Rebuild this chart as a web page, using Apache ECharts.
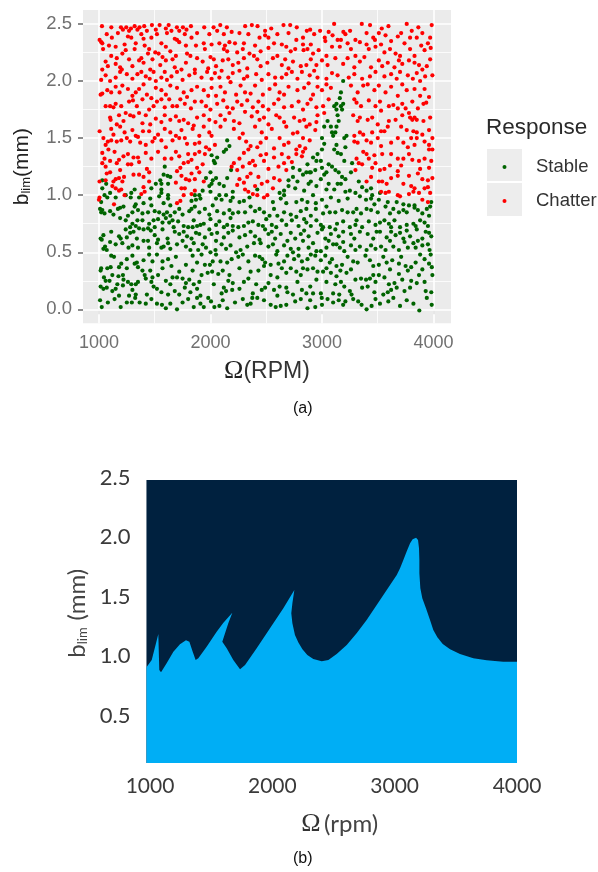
<!DOCTYPE html>
<html><head><meta charset="utf-8">
<style>html,body{margin:0;padding:0;background:#fff}#c{width:598px;height:872px}</style>
<script src="https://cdn.jsdelivr.net/npm/echarts@6/dist/echarts.min.js"></script></head>
<body><div id="c"></div>
<script>
const responseLabels=['Stable','Chatter'];
const scatterXTicks=[1000,2000,3000,4000];
const scatterXMinor=[1500,2500,3500];
const scatterYTicks=[0,0.5,1,1.5,2,2.5];
const scatterYMinor=[0.25,0.75,1.25,1.75,2.25];
const regionXTicks=[1000,2000,3000,4000];
const regionYTicks=[0.5,1,1.5,2,2.5];
const chatter=[
[1027,2.48],[1111,2.47],[1197,2.47],[1215,2.45],[1245,2.47],[1270,2.44],[1287,2.46],[1320,2.48],[1345,2.45],[1364,2.47],[1406,2.48],[1430,2.44],[1475,2.49],[1510,2.45],[1544,2.49],[1600,2.46],[1625,2.49],[1650,2.44],[1699,2.47],[1720,2.44],[1753,2.47],[1785,2.45],[1825,2.48],[1944,2.47],[2028,2.47],[2060,2.44],[2088,2.49],[2147,2.47],[2190,2.43],[2311,2.48],[2371,2.49],[2422,2.48],[2490,2.44],[2545,2.46],[2655,2.49],[2715,2.49],[2774,2.47],[2864,2.44],[2894,2.45],[2983,2.44],[3109,2.5],[3192,2.43],[3252,2.44],[3357,2.5],[3431,2.49],[3536,2.46],[3596,2.48],[3760,2.5],[3805,2.44],[3864,2.47],[3984,2.49],
[1006,2.36],[1021,2.34],[1030,2.33],[1116,2.38],[1150,2.3],[1260,2.39],[1290,2.38],[1330,2.33],[1400,2.37],[1470,2.38],[1560,2.33],[1680,2.37],[1700,2.36],[1720,2.34],[1830,2.38],[1940,2.33],[2080,2.33],[2170,2.34],[2220,2.33],[2440,2.38],[2490,2.4],[2520,2.38],[2640,2.32],[2770,2.36],[2830,2.32],[2830,2.38],[3025,2.38],[3030,2.35],[3095,2.4],[3140,2.36],[3170,2.36],[3300,2.36],[3340,2.34],[3460,2.38],[3475,2.36],[3570,2.4],[3620,2.35],[3680,2.39],[3790,2.38],[3850,2.38],[3970,2.38],[3950,2.33],
[1037,2.28],[1110,2.22],[1160,2.2],[1210,2.24],[1240,2.27],[1320,2.28],[1380,2.2],[1440,2.24],[1450,2.28],[1505,2.25],[1535,2.24],[1570,2.21],[1640,2.26],[1690,2.22],[1790,2.24],[1820,2.22],[1950,2.28],[2000,2.21],[2120,2.28],[2150,2.26],[2240,2.25],[2290,2.28],[2350,2.24],[2390,2.22],[2450,2.26],[2520,2.29],[2600,2.22],[2720,2.26],[2760,2.28],[2835,2.27],[2870,2.28],[2920,2.24],[2970,2.27],[3040,2.22],[3160,2.3],[3260,2.28],[3300,2.22],[3420,2.28],[3480,2.3],[3560,2.25],[3610,2.28],[3660,2.24],[3700,2.22],[3790,2.28],[3830,2.22],[3920,2.27],[3975,2.29],
[1030,2.1],[1080,2.13],[1150,2.15],[1190,2.12],[1205,2.1],[1300,2.13],[1400,2.16],[1460,2.1],[1550,2.14],[1600,2.18],[1680,2.12],[1740,2.1],[1780,2.16],[1860,2.1],[1930,2.17],[1980,2.11],[2050,2.13],[2110,2.18],[2200,2.14],[2250,2.16],[2330,2.11],[2450,2.13],[2510,2.16],[2640,2.14],[2700,2.11],[2740,2.17],[2810,2.13],[2860,2.14],[2900,2.19],[3000,2.18],[3050,2.14],[3120,2.2],[3190,2.15],[3290,2.12],[3340,2.17],[3440,2.12],[3510,2.18],[3590,2.16],[3650,2.12],[3720,2.15],[3780,2.18],[3870,2.14],[3900,2.1],[3970,2.19],
[1020,2.01],[1060,2.05],[1150,2.03],[1190,2.08],[1300,2.02],[1345,2.06],[1420,2.04],[1455,2.02],[1490,2.08],[1510,2.0],[1560,2.03],[1650,2.04],[1700,2.08],[1750,2.01],[1810,2.05],[1920,2.03],[2010,2.02],[2040,2.07],[2100,2.09],[2160,2.03],[2200,2.07],[2260,2.09],[2330,2.04],[2460,2.01],[2520,2.06],[2640,2.03],[2680,2.06],[2780,2.02],[2820,2.08],[2890,2.05],[2960,2.03],[3040,2.02],[3140,2.05],[3290,2.06],[3360,2.02],[3430,2.04],[3560,2.04],[3620,2.06],[3700,2.08],[3815,2.02],[3850,2.07],[3925,2.04],[3990,2.05],
[1015,1.88],[1030,1.89],[1075,1.92],[1150,1.95],[1185,1.9],[1210,1.96],[1260,1.93],[1300,1.87],[1330,1.9],[1400,1.97],[1430,1.88],[1470,1.85],[1560,1.92],[1640,1.96],[1760,1.9],[1790,1.86],[1880,1.95],[1940,1.92],[2010,1.94],[2050,1.87],[2130,1.9],[2180,1.99],[2270,1.96],[2310,1.9],[2400,1.96],[2470,1.88],[2530,1.93],[2620,1.9],[2700,1.95],[2840,1.94],[2880,1.98],[2960,1.95],[3040,1.97],[3260,1.96],[3320,1.9],[3370,1.96],[3410,1.97],[3470,1.92],[3570,1.9],[3620,1.95],[3680,1.87],[3760,1.92],[3830,1.93],[3880,1.87],[3960,1.86],
[1100,1.78],[1130,1.77],[1150,1.8],[1200,1.78],[1270,1.82],[1305,1.83],[1390,1.84],[1450,1.75],[1490,1.78],[1520,1.82],[1590,1.77],[1660,1.78],[1700,1.78],[1770,1.8],[1825,1.76],[1920,1.82],[2000,1.75],[2060,1.8],[2115,1.83],[2200,1.76],[2240,1.82],[2280,1.79],[2380,1.77],[2470,1.78],[2570,1.8],[2660,1.77],[2790,1.82],[2830,1.75],[2870,1.8],[2950,1.77],[3010,1.78],[3290,1.84],[3310,1.81],[3350,1.78],[3420,1.83],[3520,1.82],[3600,1.78],[3640,1.79],[3720,1.8],[3750,1.76],[3810,1.82],[3910,1.8],[3935,1.81],
[1100,1.68],[1105,1.66],[1160,1.62],[1180,1.7],[1280,1.7],[1310,1.69],[1360,1.72],[1420,1.7],[1460,1.62],[1510,1.67],[1590,1.7],[1690,1.69],[1720,1.65],[1760,1.66],[1800,1.63],[1880,1.68],[1990,1.66],[2045,1.64],[2090,1.7],[2170,1.72],[2210,1.65],[2310,1.73],[2370,1.69],[2440,1.66],[2520,1.62],[2590,1.7],[2660,1.64],[2750,1.68],[2840,1.66],[2950,1.64],[2960,1.7],[3320,1.65],[3340,1.68],[3410,1.66],[3450,1.68],[3530,1.74],[3600,1.65],[3780,1.72],[3790,1.68],[3810,1.66],[3830,1.68],[3850,1.66],[3970,1.68],
[1006,1.56],[1110,1.58],[1130,1.53],[1190,1.6],[1230,1.55],[1300,1.57],[1350,1.51],[1395,1.56],[1450,1.56],[1530,1.53],[1590,1.58],[1640,1.55],[1690,1.52],[1740,1.57],[1840,1.58],[1900,1.52],[1990,1.55],[2010,1.52],[2090,1.6],[2210,1.58],[2290,1.54],[2400,1.6],[2460,1.55],[2550,1.58],[2680,1.6],[2780,1.55],[2860,1.6],[2940,1.57],[3290,1.52],[3340,1.55],[3450,1.55],[3530,1.56],[3560,1.56],[3590,1.6],[3710,1.6],[3760,1.57],[3820,1.56],[3850,1.55],[3900,1.53],[3960,1.57],
[1060,1.44],[1080,1.47],[1110,1.48],[1200,1.48],[1250,1.5],[1280,1.47],[1370,1.46],[1420,1.44],[1480,1.47],[1600,1.42],[1660,1.48],[1720,1.5],[1790,1.45],[1860,1.45],[1900,1.46],[1960,1.42],[2260,1.5],[2360,1.43],[2420,1.42],[2450,1.46],[2570,1.41],[2660,1.44],[2700,1.46],[2800,1.43],[2850,1.41],[2890,1.48],[3290,1.47],[3320,1.46],[3400,1.48],[3500,1.5],[3530,1.43],[3680,1.5],[3770,1.42],[3830,1.44],[3850,1.5],[3920,1.47],[3960,1.44],
[1030,1.37],[1050,1.32],[1085,1.4],[1140,1.38],[1180,1.31],[1260,1.36],[1350,1.33],[1420,1.37],[1530,1.38],[1590,1.32],[1690,1.38],[1720,1.34],[1800,1.36],[1830,1.31],[1900,1.38],[1950,1.36],[2260,1.32],[2300,1.37],[2340,1.4],[2380,1.3],[2500,1.36],[2570,1.33],[2640,1.36],[2700,1.33],[2770,1.4],[2830,1.38],[3310,1.32],[3370,1.38],[3400,1.36],[3470,1.35],[3620,1.36],[3680,1.32],[3780,1.36],[3810,1.31],[3870,1.3],[3990,1.4],[3960,1.4],
[1030,1.28],[1060,1.25],[1190,1.22],[1260,1.27],[1290,1.27],[1360,1.29],[1430,1.23],[1700,1.21],[1730,1.24],[1800,1.29],[1880,1.24],[1930,1.27],[2190,1.25],[2210,1.28],[2350,1.28],[2400,1.26],[2480,1.3],[2520,1.23],[2610,1.25],[2730,1.29],[2820,1.34],[3330,1.28],[3360,1.27],[3450,1.24],[3480,1.28],[3520,1.22],[3560,1.23],[3610,1.26],[3680,1.21],[3710,1.26],[3880,1.23],[3960,1.24],
[1005,1.12],[1060,1.13],[1070,1.19],[1130,1.12],[1150,1.14],[1180,1.15],[1210,1.12],[1360,1.18],[1400,1.16],[1450,1.12],[1690,1.11],[1740,1.17],[1780,1.14],[1810,1.13],[1830,1.19],[1940,1.12],[2260,1.14],[2300,1.11],[2360,1.19],[2430,1.16],[2510,1.12],[2620,1.13],[2770,1.36],[3400,1.12],[3510,1.12],[3580,1.1],[3620,1.15],[3680,1.17],[3780,1.17],[3860,1.19],[3900,1.14],[3950,1.13],
[1000,0.96],[1005,0.98],[1135,0.92],[1120,1.08],[1150,1.06],[1180,1.04],[1200,1.05],[1230,1.0],[1380,1.01],[1410,1.03],[1740,1.06],[1760,1.0],[1730,0.95],[1700,0.93],[1830,1.01],[1860,1.04],[2240,1.09],[2310,1.05],[2340,1.03],[2380,1.01],[2420,1.0],[2510,1.0],[2480,0.98],[2560,1.06],[3530,1.03],[3570,1.02],[3600,1.03],[3680,1.0],[3700,0.99],[3780,1.01],[3820,1.03],[3870,1.02],[3900,0.96],[3950,0.94],[3830,1.06],[3950,1.07],
[1070,2.41],[1170,2.42],[1380,2.41],[1520,2.41],[1610,2.42],[1770,2.41],[1880,2.42],[1990,2.41],[2120,2.41],[2260,2.42],[2340,2.41],[2600,2.41],[2700,2.42],[2930,2.41],[3060,2.43],[3210,2.41],[3400,2.42],[3510,2.42],[3710,2.42],[3900,2.42],
[1090,2.31],[1230,2.32],[1410,2.31],[1600,2.3],[1780,2.31],[1870,2.31],[2010,2.32],[2130,2.31],[2300,2.33],[2400,2.31],[2570,2.33],[2680,2.3],[2900,2.32],[3090,2.3],[3230,2.33],[3400,2.32],[3530,2.32],[3740,2.33],[3890,2.31],
[1060,2.17],[1270,2.19],[1360,2.18],[1480,2.19],[1660,2.19],[1880,2.2],[2030,2.19],[2160,2.19],[2300,2.2],[2420,2.19],[2560,2.2],[2670,2.19],[2950,2.14],[3230,2.2],[3380,2.21],[3540,2.13],[3690,2.18],[3830,2.16],[3940,2.13],
[1100,2.0],[1250,2.06],[1380,2.08],[1590,2.08],[1610,2.01],[1860,2.07],[1970,2.08],[2080,2.03],[2300,2.02],[2410,2.06],[2580,2.03],[2730,2.08],[2930,2.09],[3090,2.07],[3240,2.03],[3480,2.08],[3670,2.02],[3770,2.05],[3880,2.0],
[1110,1.9],[1360,1.93],[1510,1.94],[1600,1.88],[1700,1.94],[1830,1.92],[1980,1.87],[2090,1.95],[2230,1.88],[2360,1.89],[2580,1.97],[2660,1.88],[2780,1.92],[2920,1.88],[3000,1.92],[3080,1.94],[3510,1.96],[3720,1.97],[3920,1.93],
[1060,1.78],[1240,1.72],[1340,1.78],[1560,1.84],[1630,1.84],[1730,1.84],[1860,1.82],[1960,1.78],[2150,1.77],[2330,1.83],[2430,1.82],[2520,1.75],[2610,1.84],[2730,1.78],[2900,1.84],[3060,1.84],[3480,1.78],[3680,1.76],[3860,1.76],
[1220,1.65],[1390,1.63],[1560,1.64],[1640,1.66],[1850,1.61],[1940,1.7],[2130,1.66],[2260,1.63],[2420,1.73],[2480,1.68],[2620,1.68],[2800,1.65],[2890,1.62],[3020,1.72],[3280,1.7],[3500,1.62],[3660,1.66],[3720,1.7],[3910,1.65],
[1040,1.5],[1160,1.47],[1330,1.52],[1500,1.5],[1560,1.48],[1770,1.5],[1940,1.6],[2040,1.44],[2320,1.47],[2500,1.5],[2620,1.5],[2740,1.54],[2830,1.5],[3370,1.53],[3440,1.46],[3620,1.46],[3730,1.46],[3800,1.5],[3990,1.5],
[1100,1.3],[1160,1.28],[1220,1.34],[1310,1.33],[1470,1.32],[1650,1.32],[1760,1.28],[1860,1.36],[1990,1.4],[2240,1.22],[2290,1.25],[2450,1.35],[2660,1.28],[3300,1.22],[3420,1.32],[3540,1.36],[3730,1.32],[3920,1.32],[3980,1.3],
[1100,1.2],[1225,1.16],[1310,1.18],[1400,1.07],[1450,1.2],[1770,1.06],[1860,1.14],[1900,1.2],[2330,1.16],[2400,1.08],[2460,1.1],[2570,1.15],[2680,1.22],[3440,1.16],[3540,1.12],[3730,1.1],[3800,1.08],[3920,1.06],[3990,1.15],[3970,1.02]
];
const stable=[
[1010,0.08],[1025,0.02],[1195,0.02],[1250,0.06],[1295,0.06],[1325,0.1],[1365,0.06],[1420,0.05],[1520,0.05],[1565,0.04],[1600,0.01],[1640,0.05],[1700,0],[1850,0.02],[1880,0.1],[1910,0.05],[1940,0.02],[2005,0.07],[2035,0.02],[2080,0.03],[2150,0.01],[2330,0.04],[2360,0.05],[2375,0.1],[2420,0.1],[2540,0.04],[2585,0.02],[2630,0.03],[2680,0.04],[2870,0.01],[2894,0.08],[2940,0.02],[2998,0.1],[3100,0.06],[3190,0.04],[3325,0.07],[3355,0.04],[3400,0],[3445,0.03],[3520,0.05],[3595,0.07],[3700,0.03],[3873,-0.01],[3984,0.04],[3940,0.1],[3050,0.09],[3210,0.07],[3640,0.1],
[1015,0.2],[1040,0.18],[1070,0.19],[1120,0.16],[1150,0.18],[1180,0.12],[1215,0.21],[1270,0.12],[1330,0.13],[1300,0.17],[1430,0.13],[1490,0.2],[1520,0.18],[1560,0.15],[1620,0.13],[1680,0.16],[1720,0.13],[1770,0.19],[1820,0.15],[1880,0.18],[1910,0.12],[2100,0.14],[2120,0.19],[2140,0.16],[2195,0.17],[2260,0.18],[2380,0.14],[2460,0.17],[2490,0.19],[2570,0.17],[2600,0.12],[2620,0.2],[2680,0.19],[2690,0.15],[2740,0.13],[2820,0.17],[2860,0.14],[2895,0.2],[2920,0.14],[2990,0.14],[3100,0.14],[3155,0.13],[3200,0.2],[3250,0.16],[3265,0.13],[3360,0.19],[3410,0.2],[3470,0.15],[3550,0.13],[3590,0.15],[3620,0.17],[3670,0.19],[3740,0.16],[3790,0.19],[3930,0.16],[3980,0.15],
[1020,0.36],[1015,0.34],[1045,0.28],[1060,0.25],[1105,0.37],[1120,0.3],[1175,0.29],[1215,0.3],[1220,0.26],[1260,0.24],[1290,0.22],[1330,0.22],[1350,0.37],[1390,0.34],[1410,0.3],[1420,0.27],[1480,0.28],[1530,0.3],[1600,0.25],[1660,0.28],[1700,0.28],[1750,0.27],[1810,0.26],[1850,0.22],[1975,0.32],[2015,0.33],[2070,0.31],[2110,0.34],[2200,0.23],[2300,0.24],[2340,0.27],[2360,0.33],[2430,0.34],[2480,0.38],[2540,0.3],[2600,0.28],[2680,0.32],[2720,0.36],[2810,0.3],[2830,0.36],[2870,0.35],[2920,0.36],[2960,0.33],[3010,0.33],[3080,0.32],[3130,0.29],[3165,0.34],[3220,0.32],[3300,0.26],[3350,0.27],[3395,0.26],[3430,0.27],[3480,0.24],[3510,0.3],[3560,0.28],[3650,0.23],[3720,0.26],[3800,0.25],[3870,0.3],[3920,0.24],[3990,0.3],
[1110,0.47],[1135,0.46],[1200,0.4],[1300,0.47],[1320,0.4],[1340,0.41],[1400,0.43],[1450,0.48],[1520,0.48],[1570,0.42],[1620,0.44],[1650,0.38],[1780,0.39],[1880,0.41],[1920,0.48],[1950,0.39],[1995,0.39],[2050,0.48],[2090,0.42],[2190,0.44],[2250,0.46],[2290,0.48],[2440,0.46],[2465,0.44],[2490,0.41],[2540,0.39],[2590,0.48],[2610,0.4],[2690,0.47],[2750,0.44],[2870,0.44],[2900,0.48],[2940,0.47],[2990,0.43],[3070,0.41],[3130,0.38],[3180,0.39],[3320,0.41],[3390,0.47],[3460,0.38],[3510,0.39],[3580,0.41],[3630,0.43],[3690,0.4],[3750,0.38],[3800,0.37],[3840,0.41],[3880,0.48],[3975,0.48],[3985,0.37],[3960,0.4],
[1040,0.53],[1055,0.55],[1070,0.52],[1150,0.57],[1210,0.58],[1265,0.54],[1350,0.54],[1400,0.6],[1450,0.54],[1520,0.58],[1560,0.54],[1580,0.55],[1640,0.53],[1700,0.57],[1780,0.55],[1820,0.52],[1890,0.52],[1930,0.57],[1960,0.54],[2000,0.5],[2045,0.52],[2100,0.57],[2180,0.56],[2230,0.5],[2270,0.52],[2450,0.58],[2520,0.55],[2560,0.57],[2600,0.51],[2660,0.56],[2720,0.53],[2740,0.5],[2790,0.53],[2880,0.54],[2920,0.58],[2950,0.51],[2990,0.51],[3040,0.54],[3100,0.57],[3130,0.57],[3160,0.54],[3200,0.51],[3260,0.56],[3340,0.55],[3400,0.52],[3440,0.56],[3530,0.55],[3570,0.52],[3640,0.55],[3690,0.52],[3740,0.59],[3820,0.58],[3840,0.54],[3900,0.56],[3950,0.57],[3965,0.52],
[1015,0.62],[1025,0.61],[1040,0.65],[1180,0.64],[1195,0.62],[1250,0.63],[1310,0.68],[1340,0.62],[1400,0.7],[1465,0.69],[1500,0.65],[1530,0.61],[1615,0.62],[1680,0.68],[1720,0.66],[1790,0.64],[1830,0.62],[1870,0.67],[1900,0.66],[1950,0.63],[2010,0.66],[2060,0.67],[2120,0.63],[2200,0.69],[2260,0.63],[2310,0.65],[2400,0.64],[2440,0.61],[2490,0.7],[2520,0.66],[2580,0.62],[2720,0.67],[2760,0.62],[2810,0.66],[2880,0.64],[2960,0.67],[3030,0.62],[3080,0.66],[3150,0.64],[3260,0.66],[3290,0.62],[3340,0.68],[3410,0.66],[3460,0.62],[3490,0.68],[3580,0.63],[3660,0.65],[3700,0.67],[3730,0.62],[3790,0.64],[3850,0.7],[3900,0.62],[3960,0.67],[3980,0.64],
[1190,0.8],[1280,0.72],[1300,0.75],[1330,0.73],[1345,0.78],[1360,0.71],[1440,0.71],[1450,0.75],[1500,0.72],[1530,0.79],[1570,0.76],[1600,0.8],[1630,0.76],[1670,0.72],[1710,0.77],[1760,0.73],[1800,0.72],[1840,0.72],[1880,0.73],[1910,0.74],[1940,0.75],[2000,0.79],[2080,0.77],[2120,0.72],[2150,0.74],[2200,0.73],[2250,0.72],[2300,0.73],[2340,0.76],[2430,0.74],[2470,0.73],[2550,0.74],[2590,0.72],[2680,0.74],[2790,0.73],[2860,0.76],[2900,0.73],[2990,0.74],[3010,0.72],[3070,0.72],[3135,0.75],[3250,0.72],[3300,0.74],[3360,0.72],[3480,0.74],[3520,0.76],[3600,0.75],[3620,0.72],[3650,0.78],[3700,0.72],[3760,0.74],[3820,0.75],[3840,0.73],[3920,0.76],[3950,0.73],
[1010,0.88],[1020,0.85],[1030,0.87],[1050,0.84],[1130,0.83],[1170,0.88],[1190,0.89],[1260,0.82],[1300,0.85],[1320,0.9],[1390,0.84],[1440,0.85],[1500,0.86],[1540,0.85],[1580,0.83],[1610,0.85],[1640,0.82],[1720,0.88],[1750,0.83],[1810,0.86],[1830,0.88],[1900,0.85],[1990,0.83],[2060,0.86],[2120,0.84],[2170,0.87],[2250,0.85],[2310,0.85],[2400,0.86],[2480,0.85],[2530,0.82],[2600,0.82],[2660,0.85],[2720,0.83],[2770,0.81],[2810,0.86],[2900,0.82],[2945,0.88],[3010,0.84],[3070,0.85],[3120,0.85],[3180,0.87],[3280,0.85],[3310,0.88],[3400,0.88],[3440,0.87],[3500,0.85],[3570,0.9],[3640,0.88],[3690,0.85],[3730,0.87],[3760,0.85],[3830,0.89],[3860,0.87],[3900,0.84],[3960,0.82],
[1020,0.94],[1075,0.98],[1150,0.98],[1285,0.98],[1330,0.92],[1360,0.98],[1400,0.93],[1460,0.97],[1540,0.99],[1580,0.93],[1620,0.97],[1640,0.91],[1830,0.95],[1870,0.96],[1910,0.97],[2050,0.97],[2100,0.96],[2180,0.95],[2200,0.98],[2260,0.94],[2300,0.95],[2560,0.94],[2630,0.97],[2680,0.93],[2770,0.94],[2820,0.96],[2870,0.94],[2945,0.93],[3000,0.96],[3080,0.98],[3150,0.95],[3230,0.97],[3340,0.99],[3395,0.96],[3440,0.97],[3510,0.96],[3590,0.94],[3670,0.94],[3730,0.92],[3830,0.91],[3980,0.94],[3970,0.9],
[1030,1.06],[1030,1.13],[1065,1.1],[1050,1.0],[1290,1.02],[1320,1.05],[1550,1.13],[1560,1.02],[1560,1.05],[1560,1.1],[1580,1.18],[1590,1.25],[1640,1.16],[1615,1.17],[1620,1.0],[1620,1.1],[1900,1.0],[1930,1.04],[1960,1.15],[2000,1.03],[2010,1.1],[2050,1.15],[2020,1.13],[2080,1.0],[2080,1.1],[2120,1.08],[2150,1.15],[2010,1.35],[2030,1.3],[2040,1.28],[2060,1.33],[2120,1.38],[2150,1.48],[2140,1.4],[2170,1.43],[2185,1.22],[2000,1.2],[2420,1.05],[2660,1.0],[2700,1.08],[2740,1.16],[2800,1.22],[2840,1.04],[2860,1.2],[2900,1.2],[2950,1.08],[2990,1.14],[3020,1.18],[3060,1.1],[3110,1.05],[3170,1.1],[3250,1.04],[3300,1.02],[3360,1.07],[3400,1.04],[3450,1.0],[3520,1.02],
[2660,1.04],[2700,1.13],[2740,1.24],[2780,1.12],[2830,1.18],[2870,1.27],[2900,1.12],[2940,1.22],[2960,1.36],[3000,1.24],[3040,1.2],[3060,1.27],[3090,1.25],[3120,1.22],[3150,1.2],[3180,1.16],[3210,1.14],[3260,1.2],[3270,1.28],[3210,1.42],[3200,1.3],[3140,1.37],[3000,1.5],[3020,1.45],[3000,1.4],[2990,1.3],[3110,1.4],[3130,1.44],[3170,1.36],[3200,1.5],[3220,1.52],[3080,1.6],[3130,1.6],[3150,1.65],[3140,1.7],[3180,1.75],[3090,1.55],[3100,1.52],[3120,1.55],[3020,1.6],[3170,1.78],[3190,1.8],[3130,1.8],[3110,1.78],[3190,2.0],[3160,1.85],[3170,1.9],[3130,1.75],[3050,1.65],[2950,1.3],[2890,1.2],[2920,1.33],
[1080,0.06],[1140,0.09],[1470,0.09],[1750,0.06],[1800,0.09],[1980,0.1],[2110,0.08],[2220,0.06],[2290,0.09],[2480,0.08],[2760,0.07],[2810,0.09],[3000,0.04],[3150,0.08],[3280,0.09],[3480,0.09],[3760,0.08],[3820,0.05],
[1095,0.25],[1165,0.22],[1350,0.24],[1470,0.24],[1640,0.22],[1780,0.23],[1900,0.24],[2030,0.22],[2160,0.25],[2410,0.22],[2520,0.23],[2780,0.24],[2950,0.26],[3040,0.24],[3120,0.22],[3170,0.24],[3460,0.3],[3600,0.22],[3850,0.23],
[1075,0.36],[1180,0.37],[1250,0.36],[1460,0.34],[1570,0.36],[1720,0.33],[1840,0.34],[1920,0.3],[2170,0.3],[2260,0.36],[2640,0.36],[2770,0.33],[3040,0.36],[3260,0.35],[3610,0.35],[3690,0.31],[3770,0.34],[3900,0.35],
[1250,0.44],[1480,0.42],[1690,0.46],[1840,0.47],[2020,0.42],[2150,0.41],[2340,0.42],[2400,0.47],[2660,0.42],[2790,0.47],[2820,0.42],[3030,0.47],[3090,0.44],[3230,0.46],[3280,0.42],[3430,0.43],[3550,0.46],[3710,0.46],[3920,0.44],
[1100,0.59],[1300,0.56],[1440,0.6],[1620,0.58],[1750,0.6],[1850,0.58],[2050,0.6],[2140,0.53],[2330,0.55],[2390,0.58],[2690,0.6],[2830,0.6],[3060,0.6],[3190,0.59],[3300,0.52],[3480,0.53],[3610,0.6],[3770,0.54],[3860,0.6],
[1110,0.68],[1240,0.7],[1280,0.67],[1570,0.7],[1760,0.68],[1990,0.7],[2160,0.67],[2360,0.68],[2550,0.68],[2630,0.66],[2840,0.69],[3000,0.7],[3120,0.7],[3190,0.68],[3520,0.68],[3620,0.68],[3760,0.69],[3930,0.68],
[1240,0.78],[1390,0.78],[1490,0.78],[1660,0.78],[1850,0.78],[2050,0.74],[2180,0.8],[2380,0.77],[2500,0.79],[2640,0.78],[2730,0.78],[2840,0.79],[2950,0.78],[3190,0.77],[3310,0.78],[3420,0.77],[3560,0.78],[3880,0.78],
[1100,0.86],[1220,0.9],[1350,0.87],[1470,0.91],[1680,0.85],[1860,0.9],[1950,0.88],[2020,0.91],[2200,0.84],[2360,0.9],[2440,0.88],[2570,0.88],[2860,0.88],[3040,0.9],[3230,0.85],[3350,0.84],[3470,0.92],[3610,0.84],[3780,0.91],[3940,0.88],
[1100,1.02],[1240,1.0],[1470,1.06],[1510,1.1],[1860,1.0],[1990,1.08],[2140,1.0],[2200,1.03],[2350,0.98],[2620,1.02],[2760,1.06],[2880,1.1],[2920,1.0],[3040,1.05],[3140,1.1],[3210,1.03],[3330,1.12],[3440,1.06]
];
const boundaryX=[971,1014,1049,1068,1076,1090,1136,1191,1245,1294,1322,1349,1373,1395,1463,1545,1600,1673,1640,1591,1627,1681,1736,1777,1872,1981,2090,2180,2164,2155,2164,2185,2213,2246,2286,2335,2404,2458,2526,2608,2689,2771,2853,2935,3017,3044,3071,3098,3126,3147,3175,3191,3199,3202,3202,3210,3226,3256,3289,3316,3349,3393,3453,3534,3643,3752,3887,4000];
const boundaryY=[0.905,0.966,1.106,1.185,0.882,0.863,0.938,1.036,1.098,1.132,1.12,1.036,0.966,0.98,1.078,1.204,1.28,1.364,1.274,1.12,1.064,0.966,0.888,0.924,1.064,1.232,1.4,1.555,1.443,1.358,1.274,1.176,1.112,1.056,1.008,0.975,0.955,0.966,1.017,1.092,1.19,1.303,1.428,1.555,1.681,1.737,1.807,1.877,1.947,1.98,1.994,1.975,1.905,1.807,1.695,1.569,1.485,1.4,1.303,1.218,1.157,1.101,1.056,1.017,0.98,0.963,0.952,0.952];
const panelTop=2.48;
const boundary=boundaryX.map((x,i)=>[x,boundaryY[i]]);
const panelEdge=[[971,panelTop],[4000,panelTop]];
const gridLine=(axis,values,w)=>values.map(v=>({[axis]:v,lineStyle:{color:'#fff',width:w,type:'solid'}}));
const chart=echarts.init(document.getElementById('c'),null,{renderer:'canvas'});
const sans='"Liberation Sans",Arial,sans-serif';
const lato='Lato,"Open Sans",sans-serif';
chart.setOption({
 animation:false,backgroundColor:'#fff',
 title:[
  {text:'(a)',left:288,top:396,textStyle:{fontFamily:sans,fontSize:16,fontWeight:'normal',color:'#111'}},
  {text:'(b)',left:288,top:846,textStyle:{fontFamily:sans,fontSize:16,fontWeight:'normal',color:'#111'}},
  {text:'Response',left:481,top:111,textStyle:{fontFamily:sans,fontSize:22.5,fontWeight:'normal',color:'#2a2a2a'}}
 ],
 graphic:[
  {type:'rect',shape:{x:487,y:149,width:35,height:32},style:{fill:'#ededed'},z:0},
  {type:'rect',shape:{x:487,y:183,width:35,height:33},style:{fill:'#ededed'},z:0}
 ],
 legend:{data:responseLabels.map(n=>({name:n,icon:'circle'})),orient:'vertical',left:502.5,top:157.5,padding:0,itemWidth:4,itemHeight:4,itemGap:15,selectedMode:false,
  formatter:n=>`{g|}{t|${n}}`,
  textStyle:{rich:{g:{width:24.5},t:{fontFamily:sans,fontSize:18.5,color:'#333'}}}},
 grid:[
  {left:83,top:10,width:368,height:313.3,show:true,backgroundColor:'#ebebeb',borderWidth:0},
  {left:146.5,top:477.5,width:370.5,height:285.5,show:false}
 ],
 xAxis:[
  {gridIndex:0,type:'value',min:857,max:4157,axisLine:{show:false},splitLine:{show:false},
   axisTick:{length:5,customValues:scatterXTicks,lineStyle:{color:'#666',width:1.5}},
   axisLabel:{customValues:scatterXTicks,margin:11,formatter:v=>String(v),fontFamily:sans,fontSize:18,color:'#707070'},
   name:'{o|Ω}{t|(RPM)}',nameLocation:'middle',nameGap:35,
   nameTextStyle:{rich:{o:{fontFamily:'"Liberation Serif",serif',fontSize:26,color:'#222'},t:{fontFamily:sans,fontSize:23,color:'#333'}}}},
  {gridIndex:1,type:'value',min:971.4,max:4000,axisLine:{show:false},splitLine:{show:false},axisTick:{show:false},
   axisLabel:{customValues:regionXTicks,margin:13,formatter:v=>String(v),fontFamily:lato,fontSize:21,color:'#3a3a3a'},
   name:'{o|Ω} {t|(rpm)}',nameLocation:'middle',nameGap:48,
   nameTextStyle:{padding:[0,0,0,16],rich:{o:{fontFamily:'"Liberation Serif",serif',fontSize:26,color:'#333'},t:{fontFamily:lato,fontSize:24,color:'#444'}}}}
 ],
 yAxis:[
  {gridIndex:0,type:'value',min:-0.122,max:2.622,axisLine:{show:false},splitLine:{show:false},
   axisTick:{length:5,customValues:scatterYTicks,lineStyle:{color:'#666',width:1.5}},
   axisLabel:{customValues:scatterYTicks,margin:11,formatter:v=>v.toFixed(1),fontFamily:sans,fontSize:18.5,color:'#707070'},
   name:'{b|b}{s|lim}{t|(mm)}',nameLocation:'middle',nameGap:50,
   nameTextStyle:{rich:{b:{fontFamily:sans,fontSize:21,color:'#222'},s:{fontFamily:sans,fontSize:13,color:'#222',verticalAlign:'bottom'},t:{fontFamily:sans,fontSize:21,color:'#222'}}}},
  {gridIndex:1,type:'value',min:0.1,max:2.5,axisLine:{show:false},splitLine:{show:false},axisTick:{show:false},
   axisLabel:{customValues:regionYTicks,margin:16,formatter:v=>v.toFixed(1),fontFamily:lato,fontSize:22,color:'#3a3a3a'},
   name:'{b|b}{s|lim}{g|}{t|(mm)}',nameLocation:'middle',nameGap:49,
   nameTextStyle:{padding:[0,0,0,14],rich:{b:{fontFamily:lato,fontSize:24,color:'#444'},s:{fontFamily:lato,fontSize:13,color:'#444',verticalAlign:'bottom'},g:{width:7},t:{fontFamily:lato,fontSize:24,color:'#444'}}}}
 ],
 series:[
  {name:'gridlines',type:'scatter',xAxisIndex:0,yAxisIndex:0,data:[],z:1,silent:true,
   markLine:{z:1,silent:true,symbol:'none',label:{show:false},animation:false,
    data:[...gridLine('xAxis',scatterXTicks,1.6),...gridLine('xAxis',scatterXMinor,0.8),...gridLine('yAxis',scatterYTicks,1.6),...gridLine('yAxis',scatterYMinor,0.8)]}},
  {name:responseLabels[0],type:'scatter',xAxisIndex:0,yAxisIndex:0,data:stable,symbolSize:4.2,itemStyle:{color:'#006400',opacity:1},z:3},
  {name:responseLabels[1],type:'scatter',xAxisIndex:0,yAxisIndex:0,data:chatter,symbolSize:4.2,itemStyle:{color:'#ff0000',opacity:1},z:3},
  {name:'Unstable region',type:'line',xAxisIndex:1,yAxisIndex:1,data:panelEdge,symbol:'none',lineStyle:{width:0},areaStyle:{color:'#00213f',origin:'start',opacity:1},z:2},
  {name:'Stable region',type:'line',xAxisIndex:1,yAxisIndex:1,data:boundary,symbol:'none',lineStyle:{width:0},areaStyle:{color:'#00aef5',origin:'start',opacity:1},z:3}
 ]
});
</script></body></html>
